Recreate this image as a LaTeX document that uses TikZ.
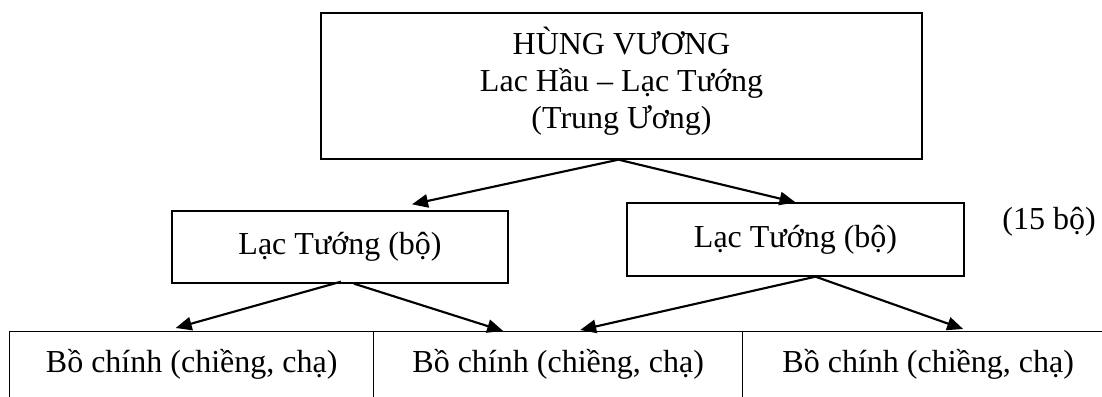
\documentclass[tikz,border=0pt]{standalone}
\usepackage{fontspec}
\setmainfont{Liberation Serif}
\usetikzlibrary{arrows.meta,calc}
\begin{document}
\begin{tikzpicture}[x=0.75pt,y=-0.75pt,
  every node/.style={font=\fontsize{24pt}{27.75pt}\selectfont},
  boxnode/.style={draw,line width=1pt,inner sep=0pt},
  cellnode/.style={draw,line width=1pt,anchor=north west,inner xsep=0pt,inner ysep=0pt,
    text height=30.75pt,text depth=36pt},
  arr/.style={line width=1.6pt,-{Triangle[length=12pt,width=10pt]}}]
\useasboundingbox (0,0) rectangle (1102,396);
\clip (0,0) rectangle (1102,396);
\node[boxnode,minimum width=450.75pt,minimum height=109.5pt,align=center] (top) at (621.5,86)
  {HÙNG VƯƠNG\\Lac Hầu – Lạc Tướng\\(Trung Ương)\rule[-12.8pt]{0pt}{0pt}};
\node[boxnode,minimum width=252pt,minimum height=54pt] (lt) at (340,247) {Lạc Tướng (bộ)};
\node[boxnode,minimum width=252.75pt,minimum height=54.75pt] (rt) at (795.5,239.5) {Lạc Tướng (bộ)};
\node (note) at (1049,222) {(15 bộ)};
\node[cellnode,minimum width=273pt] (c1) at (9,331) {Bồ chính (chiềng, chạ)};
\node[cellnode,minimum width=276.75pt] (c2) at (373,331) {Bồ chính (chiềng, chạ)};
\node[cellnode,minimum width=278.25pt] (c3) at (742,331) {Bồ chính (chiềng, chạ)};
\draw[arr] ($(top.south)+(-3,0)$) -- ($(lt.north)+(72,-6)$);
\draw[arr] ($(top.south)+(-3,0)$) -- (rt.north);
\draw[arr] ($(lt.south)+(1,-2)$) -- ($(c1.north)+(-16,-3)$);
\draw[arr] ($(lt.south)+(14,0)$) -- ($(c2.north)+(-55,0)$);
\draw[arr] ($(rt.south)+(20,0)$) -- ($(c2.north)+(22,-1)$);
\draw[arr] ($(rt.south)+(20,0)$) -- ($(c3.north)+(35,-2)$);
\end{tikzpicture}
\end{document}
